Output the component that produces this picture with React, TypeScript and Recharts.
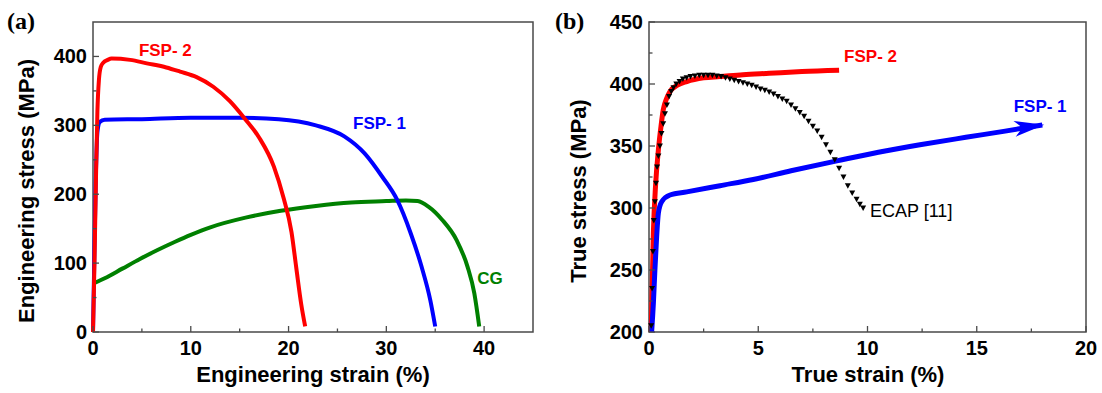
import React from 'react';
import { ComposedChart, Line, Scatter, XAxis, YAxis, ReferenceArea, ReferenceDot, Label } from 'recharts';

const FONT = '"Liberation Sans", Arial, Helvetica, sans-serif';
const AXIS = '#4a4a4a';
const RED = '#ff0000';
const BLUE = '#0000ff';
const GREEN = '#008000';

// (a) engineering curves: strain (%) / stress (MPa)
const engFsp2Strain = [0, 0.15, 0.3, 0.45, 0.6, 0.8, 1.05, 1.5, 1.9, 3.8, 5.5, 7.5, 8.9, 10.6, 12.3, 14.0, 15.5, 17.0, 18.5, 19.5, 20.3, 20.8, 21.3, 21.7];
const engFsp2Stress = [0, 100, 220, 320, 365, 385, 391, 395, 397, 395, 390, 384, 378, 370, 356, 335, 310, 282, 240, 194, 145, 92, 40, 8];

const engFsp1Strain = [0, 0.15, 0.3, 0.45, 0.7, 1.2, 5, 10, 15, 19, 22.8, 25.7, 27.8, 29.6, 31.1, 32.5, 33.6, 34.5, 35.0];
const engFsp1Stress = [0, 120, 230, 290, 305, 308, 309, 311, 311, 309, 300, 284, 259, 225, 192, 143, 95, 46, 8];

const engCgStrain = [0, 1.2, 3.0, 4.8, 6.6, 8.4, 10, 12, 15.6, 19.2, 22.8, 26.4, 30, 32, 33.2, 34.3, 35.7, 37.2, 38.3, 39.0, 39.5];
const engCgStress = [70, 78, 92, 106, 119, 131, 141, 152, 166, 176, 183, 188, 190, 191, 190, 182, 163, 133, 95, 56, 8];

// (b) true curves
const trueFsp2Strain = [0.1, 0.2, 0.3, 0.43, 0.55, 0.65, 0.8, 0.96, 1.3, 1.73, 2.5, 3.25, 4.3, 5.5, 7.0, 8.7];
const trueFsp2Stress = [200, 280, 318, 347, 366, 379, 388, 394, 399, 402, 405, 406, 407.5, 408.6, 410, 411];

const trueFsp1Strain = [0.12, 0.2, 0.27, 0.35, 0.43, 0.58, 0.96, 1.73, 3.25, 4.77, 6.5, 8.6, 10.5, 12.4, 14.5, 16.3, 18.0];
const trueFsp1Stress = [200, 223, 250, 277, 296, 305, 310.5, 313, 318, 323, 330, 338, 345, 351, 357, 362, 367];

const ecapStrain = [0.1, 0.14, 0.18, 0.22, 0.27, 0.32, 0.37, 0.43, 0.5, 0.57, 0.65, 0.73, 0.82, 0.92, 1.02, 1.12, 1.25, 1.4, 1.55, 1.72, 1.9, 2.1, 2.3, 2.5, 2.7, 2.9, 3.1, 3.3, 3.5, 3.7, 3.9, 4.1, 4.3, 4.5, 4.7, 4.9, 5.1, 5.3, 5.5, 5.7, 5.9, 6.1, 6.3, 6.5, 6.7, 6.9, 7.1, 7.3, 7.5, 7.7, 7.9, 8.1, 8.3, 8.5, 8.7, 8.9, 9.1, 9.3, 9.5, 9.65, 9.8];
const ecapStress = [205, 235, 265, 290, 305, 320, 333, 342, 350, 360, 368, 376, 383, 390, 394, 397, 400, 402, 404, 405, 406, 406.5, 407, 407, 407, 407, 406.5, 406, 405, 404, 403, 402, 401, 400, 399, 397.5, 396, 395, 393.5, 392, 390, 388, 386, 383, 380, 377, 374, 370, 366, 362, 357, 351, 345, 339, 332, 325, 318, 312, 307, 303, 300];

// axis ticks
const xTicksA = [0, 5, 10, 15, 20, 25, 30, 35, 40];
const xLabelsA = [0, 10, 20, 30, 40];
const yTicksA = [0, 50, 100, 150, 200, 250, 300, 350, 400];
const yLabelsA = [0, 100, 200, 300, 400];
const xTicksB = [0, 2.5, 5, 7.5, 10, 12.5, 15, 17.5, 20];
const xLabelsB = [0, 5, 10, 15, 20];
const yTicksB = [200, 225, 250, 275, 300, 325, 350, 375, 400, 425, 450];
const yLabelsB = [200, 250, 300, 350, 400, 450];

const zip = (xs: number[], ys: number[]) => xs.map((x, i) => ({ x, y: ys[i] }));

const makeYTick = (left: number, labelled: number[]) => (props: any) => {
  const { y, payload } = props;
  const major = labelled.includes(payload.value);
  return (
    <g>
      <line x1={left} x2={left + (major ? 6 : 3.5)} y1={y} y2={y} stroke={AXIS} strokeWidth={1.3} />
      {major && (
        <text x={left - 6} y={y + 7} textAnchor="end" fontSize={20} fontWeight="bold" fontFamily={FONT} fill="#000">
          {payload.value}
        </text>
      )}
    </g>
  );
};

const makeXTick = (bottom: number, labelled: number[]) => (props: any) => {
  const { x, payload } = props;
  const major = labelled.includes(payload.value);
  return (
    <g>
      <line x1={x} x2={x} y1={bottom} y2={bottom - (major ? 6 : 3.5)} stroke={AXIS} strokeWidth={1.3} />
      {major && (
        <text x={x} y={bottom + 23} textAnchor="middle" fontSize={20} fontWeight="bold" fontFamily={FONT} fill="#000">
          {payload.value}
        </text>
      )}
    </g>
  );
};

const yTitle = (text: string, x: number, y: number) => () => (
  <text x={x} y={y} transform={`rotate(-90 ${x} ${y})`} textAnchor="middle" dominantBaseline="central"
    fontSize={22} fontWeight="bold" fontFamily={FONT} fill="#000">{text}</text>
);

const xTitle = (text: string, x: number, y: number) => () => (
  <text x={x} y={y} textAnchor="middle" fontSize={22} fontWeight="bold" fontFamily={FONT} fill="#000">{text}</text>
);

const seriesLabel = (value: string, fill: string, bold = true, size = 17) => ({
  value, position: 'center' as const, fill, fontSize: size, fontWeight: bold ? 'bold' : 'normal', fontFamily: FONT,
});

const downTriangle = (props: any) => {
  const { cx, cy } = props;
  return <polygon points={`${cx - 3},${cy - 2.5} ${cx + 3},${cy - 2.5} ${cx},${cy + 3}`} fill="#000" />;
};

const arrowDot = (lastIndex: number) => (props: any) => {
  const { cx, cy, index } = props;
  if (index !== lastIndex) return <g key={index} />;
  return (
    <polygon key={index} points="2,0 -28,-8 -20,0 -28,8" fill={BLUE}
      transform={`translate(${cx},${cy}) rotate(-8)`} />
  );
};

const PanelA = () => (
  <ComposedChart width={550} height={393} margin={{ top: 22, right: 17, bottom: 11, left: 13 }}>
    <XAxis dataKey="x" type="number" domain={[0, 45]} ticks={xTicksA} interval={0} axisLine={false} tickLine={false}
      tick={makeXTick(332, xLabelsA)} height={50}>
      <Label content={xTitle('Engineering strain (%)', 313, 382)} />
    </XAxis>
    <YAxis dataKey="y" type="number" domain={[0, 450]} ticks={yTicksA} interval={0} axisLine={false} tickLine={false}
      tick={makeYTick(93, yLabelsA)} width={80}>
      <Label content={yTitle('Engineering stress (MPa)', 26, 191)} />
    </YAxis>
    <ReferenceArea x1={0} x2={45} y1={0} y2={450} fill="none" stroke={AXIS} strokeWidth={1.5} />
    <Line data={zip(engCgStrain, engCgStress)} dataKey="y" type="monotone" stroke={GREEN} strokeWidth={4} dot={false} isAnimationActive={false} />
    <Line data={zip(engFsp1Strain, engFsp1Stress)} dataKey="y" type="monotone" stroke={BLUE} strokeWidth={4} dot={false} isAnimationActive={false} />
    <Line data={zip(engFsp2Strain, engFsp2Stress)} dataKey="y" type="monotone" stroke={RED} strokeWidth={4} dot={false} isAnimationActive={false} />
    <ReferenceDot x={7.4} y={409} r={0} fill="none" stroke="none" label={seriesLabel('FSP- 2', RED)} />
    <ReferenceDot x={29.3} y={303} r={0} fill="none" stroke="none" label={seriesLabel('FSP- 1', BLUE)} />
    <ReferenceDot x={40.6} y={78} r={0} fill="none" stroke="none" label={seriesLabel('CG', GREEN)} />
  </ComposedChart>
);

const PanelB = () => (
  <ComposedChart width={552} height={393} margin={{ top: 22, right: 16, bottom: 11, left: 19 }}>
    <XAxis dataKey="x" type="number" domain={[0, 20]} ticks={xTicksB} interval={0} axisLine={false} tickLine={false}
      tick={makeXTick(332, xLabelsB)} height={50}>
      <Label content={xTitle('True strain (%)', 318, 382)} />
    </XAxis>
    <YAxis dataKey="y" type="number" domain={[200, 450]} ticks={yTicksB} interval={0} axisLine={false} tickLine={false}
      tick={makeYTick(99, yLabelsB)} width={80}>
      <Label content={yTitle('True stress (MPa)', 28, 191)} />
    </YAxis>
    <ReferenceArea x1={0} x2={20} y1={200} y2={450} fill="none" stroke={AXIS} strokeWidth={1.5} />
    <Scatter data={zip(ecapStrain, ecapStress)} dataKey="y" shape={downTriangle} isAnimationActive={false} />
    <Line data={zip(trueFsp2Strain, trueFsp2Stress)} dataKey="y" type="monotone" stroke={RED} strokeWidth={5} dot={false} isAnimationActive={false} />
    <Line data={zip(trueFsp1Strain, trueFsp1Stress)} dataKey="y" type="monotone" stroke={BLUE} strokeWidth={5}
      dot={arrowDot(trueFsp1Strain.length - 1)} isAnimationActive={false} />
    <ReferenceDot x={10.14} y={423} r={0} fill="none" stroke="none" label={seriesLabel('FSP- 2', RED)} />
    <ReferenceDot x={17.9} y={382} r={0} fill="none" stroke="none" label={seriesLabel('FSP- 1', BLUE)} />
    <ReferenceDot x={12.0} y={298} r={0} fill="none" stroke="none" label={seriesLabel('ECAP [11]', '#000', false, 18)} />
  </ComposedChart>
);

const panelTag: React.CSSProperties = {
  position: 'absolute', top: 9, fontFamily: '"Liberation Serif", "Times New Roman", serif',
  fontWeight: 'bold', fontSize: 24, lineHeight: '24px', color: '#000',
};

export default function App() {
  return (
    <div style={{ position: 'absolute', left: 0, top: 0, width: 1102, height: 393, background: '#fff', overflow: 'hidden' }}>
      <div style={{ position: 'absolute', left: 0, top: 0 }}><PanelA /></div>
      <div style={{ position: 'absolute', left: 550, top: 0 }}><PanelB /></div>
      <div style={{ ...panelTag, left: 7 }}>(a)</div>
      <div style={{ ...panelTag, left: 555 }}>(b)</div>
    </div>
  );
}
